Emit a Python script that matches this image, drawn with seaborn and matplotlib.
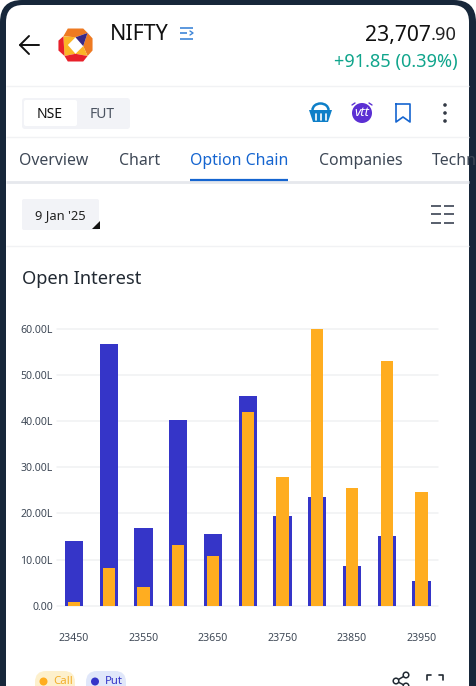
import matplotlib
matplotlib.use("Agg")
import matplotlib.pyplot as plt
from matplotlib.patches import FancyBboxPatch, Polygon, Circle, Rectangle, Arc
import pandas as pd
import seaborn as sns

strikes = [23450, 23500, 23550, 23600, 23650, 23700, 23750, 23800, 23850, 23900, 23950]
put_oi = [14.1, 56.7, 16.9, 40.3, 15.6, 45.4, 19.5, 23.6, 8.5, 15.2, 5.4]
call_oi = [0.9, 8.2, 4.1, 13.2, 10.8, 42.0, 27.9, 60.0, 25.5, 53.0, 24.6]
y_ticks = [0, 10, 20, 30, 40, 50, 60]
y_labels = ["0.00", "10.00L", "20.00L", "30.00L", "40.00L", "50.00L", "60.00L"]

W, H = 476, 686
FRAME = "#17273a"
TEXT = "#3e4856"
BLUE = "#1565d0"
PUT = "#3535c8"
CALL = "#ffad20"

sns.set_theme(style="white")
plt.rcParams["font.family"] = ["Noto Sans", "DejaVu Sans"]

fig = plt.figure(figsize=(W / 100, H / 100), dpi=100, facecolor="white")

# everything around the chart is drawn in pixel coords
ui = fig.add_axes([0, 0, 1, 1])
ui.set_xlim(0, W)
ui.set_ylim(H, 0)
ui.axis("off")

ui.add_patch(FancyBboxPatch((0, 0), W, H + 60, boxstyle="round,pad=0,rounding_size=22",
                            fc=FRAME, ec="none"))
ui.add_patch(FancyBboxPatch((6, 5), W - 13, H + 60, boxstyle="round,pad=0,rounding_size=17",
                            fc="white", ec="none"))

# separators
for y, c, lw in [(86, "#f1f2f4", 1), (137, "#f1f2f4", 1), (182, "#e6e8ed", 2), (246, "#f1f2f4", 1)]:
    ui.plot([6, 469], [y, y], color=c, lw=lw, solid_capstyle="butt")

# back arrow
ui.plot([20, 39], [45, 45], color="#111111", lw=1.4)
ui.plot([29, 20, 29], [36, 45, 54], color="#111111", lw=1.4)


# logo
def logo_part(points, color):
    ui.add_patch(Polygon([(75.5 + a * 1.1, 45 + b * 1.1) for a, b in points], fc=color, ec="none"))


logo_part([(-7, -15), (7, -15), (11, -11), (0, -7), (-11, -8)], "#ee7a22")
logo_part([(11, -11), (15.5, -6), (15.5, 5), (11, 10), (7, 1)], "#ee7a22")
logo_part([(11, -11), (0, -7), (7, 1)], "#3a2a86")
logo_part([(-11, -8), (0, -7), (-7, 0), (0, 8), (-10, 10)], "#fbb526")
logo_part([(7, 1), (11, 10), (0, 8)], "#fbb526")
logo_part([(-11, -8), (-15.5, -4), (-15.5, 5), (-10, 10)], "#e8202a")
logo_part([(-10, 10), (-7, 15), (7, 15), (11, 10), (0, 8)], "#e8202a")

ui.text(110, 35, "NIFTY", fontsize=15.4, color="#111111", va="center")
for y, x1 in [(27.5, 193), (33, 187), (38.5, 193)]:
    ui.plot([180, x1], [y, y], color="#3f86d8", lw=1.2, solid_capstyle="butt")
ui.plot([190, 193, 190], [31, 33, 35], color="#3f86d8", lw=1)
ui.text(431, 35, "23,707", fontsize=15.2, color="#111111", va="center", ha="right")
ui.text(431, 35, ".90", fontsize=13.2, color="#222222", va="center", ha="left")
ui.text(458, 62, "+91.85 (0.39%)", fontsize=13.1, color="#10a58c", va="center", ha="right")

# NSE / FUT switch
ui.add_patch(FancyBboxPatch((22, 98), 108, 31, boxstyle="round,pad=0,rounding_size=3", fc="#f2f3f7", ec="none"))
ui.add_patch(FancyBboxPatch((24, 100), 53, 26, boxstyle="round,pad=0,rounding_size=2", fc="white", ec="none"))
ui.text(50, 114, "NSE", fontsize=10, color="#111111", ha="center", va="center")
ui.text(102, 114, "FUT", fontsize=10, color="#4a5260", ha="center", va="center")

# basket
ui.add_patch(Polygon([(309, 110), (332, 110), (328, 122), (313, 122)], fc="#0e7fc8", ec="none"))
ui.add_patch(Arc((320.5, 110), 16, 13, theta1=180, theta2=360, color="#0e7fc8", lw=1.8))
for x in [315.5, 320.5, 325.5]:
    ui.plot([x, x], [114, 119.5], color="white", lw=1.2)

# alarm badge
ui.add_patch(Circle((362, 113), 10, fc="#5b2fd3", ec="none"))
ui.text(362, 113, "vtt", fontsize=9.5, color="white", ha="center", va="center", style="italic", weight="bold")
ui.plot([352, 355], [105, 103], color="#5b2fd3", lw=1)
ui.plot([372, 369], [105, 103], color="#5b2fd3", lw=1)

# bookmark
ui.plot([396, 396, 403, 410, 410, 396], [104, 122, 117, 122, 104, 104], color=BLUE, lw=1.2)
# more dots
for y in [105, 113, 121]:
    ui.add_patch(Circle((445, y), 1.8, fc="#333a45", ec="none"))

# tabs
for x, label, c in [(19, "Overview", TEXT), (119, "Chart", TEXT), (190, "Option Chain", BLUE),
                    (319, "Companies", TEXT), (432, "Technicals", TEXT)]:
    t = ui.text(x, 161, label, fontsize=11.4, color=c, va="center")
    t.set_clip_path(Rectangle((6, 130), 463, 50, transform=ui.transData))
ui.plot([190, 288], [179.5, 179.5], color=BLUE, lw=1.6, solid_capstyle="butt")

# expiry box
ui.add_patch(FancyBboxPatch((22, 199), 77, 31, boxstyle="round,pad=0,rounding_size=2", fc="#f2f3f7", ec="none"))
ui.text(60.5, 216, "9 Jan '25", fontsize=9.3, color="#222222", ha="center", va="center")
ui.add_patch(Polygon([(100, 221), (100, 229), (92, 229)], fc="#111111", ec="none"))

# list icon
for x in [431, 444]:
    for y in [206, 214, 222.5]:
        ui.plot([x, x + 10], [y, y], color="#4a5260", lw=1.3, solid_capstyle="butt")

ui.text(22, 278.5, "Open Interest", fontsize=13.2, color="#222a33", va="center")

# chart
df = pd.DataFrame({"strike": strikes, "put": put_oi, "call": call_oi})

ax = fig.add_axes([57 / W, 1 - 605.7 / H, (438 - 57) / W, (605.7 - 328.7) / H])
ax.patch.set_alpha(0)
sns.barplot(data=df, x="strike", y="put", color=PUT, saturation=1, width=0.52, linewidth=0, ax=ax, zorder=3)
sns.barplot(data=df, x="strike", y="call", color=CALL, saturation=1, width=0.35, linewidth=0, ax=ax, zorder=4)
ax.set_xlim(-0.489, 10.475)
ax.set_ylim(0, 60)
sns.despine(ax=ax, left=True, bottom=True)
ax.set_xlabel("")
ax.set_ylabel("")
ax.set_yticks(y_ticks)
ax.set_yticklabels(y_labels)
ax.set_xticks(range(0, 11, 2))
ax.set_xticklabels(strikes[::2])
ax.tick_params(axis="y", length=0, pad=3, labelsize=7.6, labelcolor=TEXT)
ax.tick_params(axis="x", length=0, pad=20, labelsize=7.6, labelcolor=TEXT)
ax.yaxis.grid(True, color="#f0f1f3", lw=1.1)
ax.set_axisbelow(True)
for g in ax.get_ygridlines():
    g.set_clip_on(False)

# legend pills, cut off by the bottom of the picture
ui.add_patch(FancyBboxPatch((35, 671), 40, 30, boxstyle="round,pad=0,rounding_size=11", fc="#fdf0cc", ec="none"))
ui.add_patch(FancyBboxPatch((86, 671), 40, 30, boxstyle="round,pad=0,rounding_size=11", fc="#e0e7fa", ec="none"))
ui.add_patch(Circle((43.5, 681.5), 4, fc=CALL, ec="none"))
ui.add_patch(Circle((95, 681.5), 4, fc=PUT, ec="none"))
ui.text(53, 682, "Call", fontsize=8.2, color="#f3ae2c", va="center")
ui.text(104.5, 682, "Put", fontsize=8.2, color=PUT, va="center")

# share + fullscreen icons
for x, y in [(406, 675), (396, 681), (406, 686)]:
    ui.add_patch(Circle((x, y), 2.8, fc="white", ec="#222a33", lw=1.1, zorder=5))
ui.plot([406, 396, 406], [675, 681, 686], color="#222a33", lw=1.1, zorder=4)
for xs, ys in [([427, 427, 431], [680, 675, 675]), ([443, 443, 439], [680, 675, 675])]:
    ui.plot(xs, ys, color="#222a33", lw=1.2)

fig.savefig("out.png", dpi=100)
